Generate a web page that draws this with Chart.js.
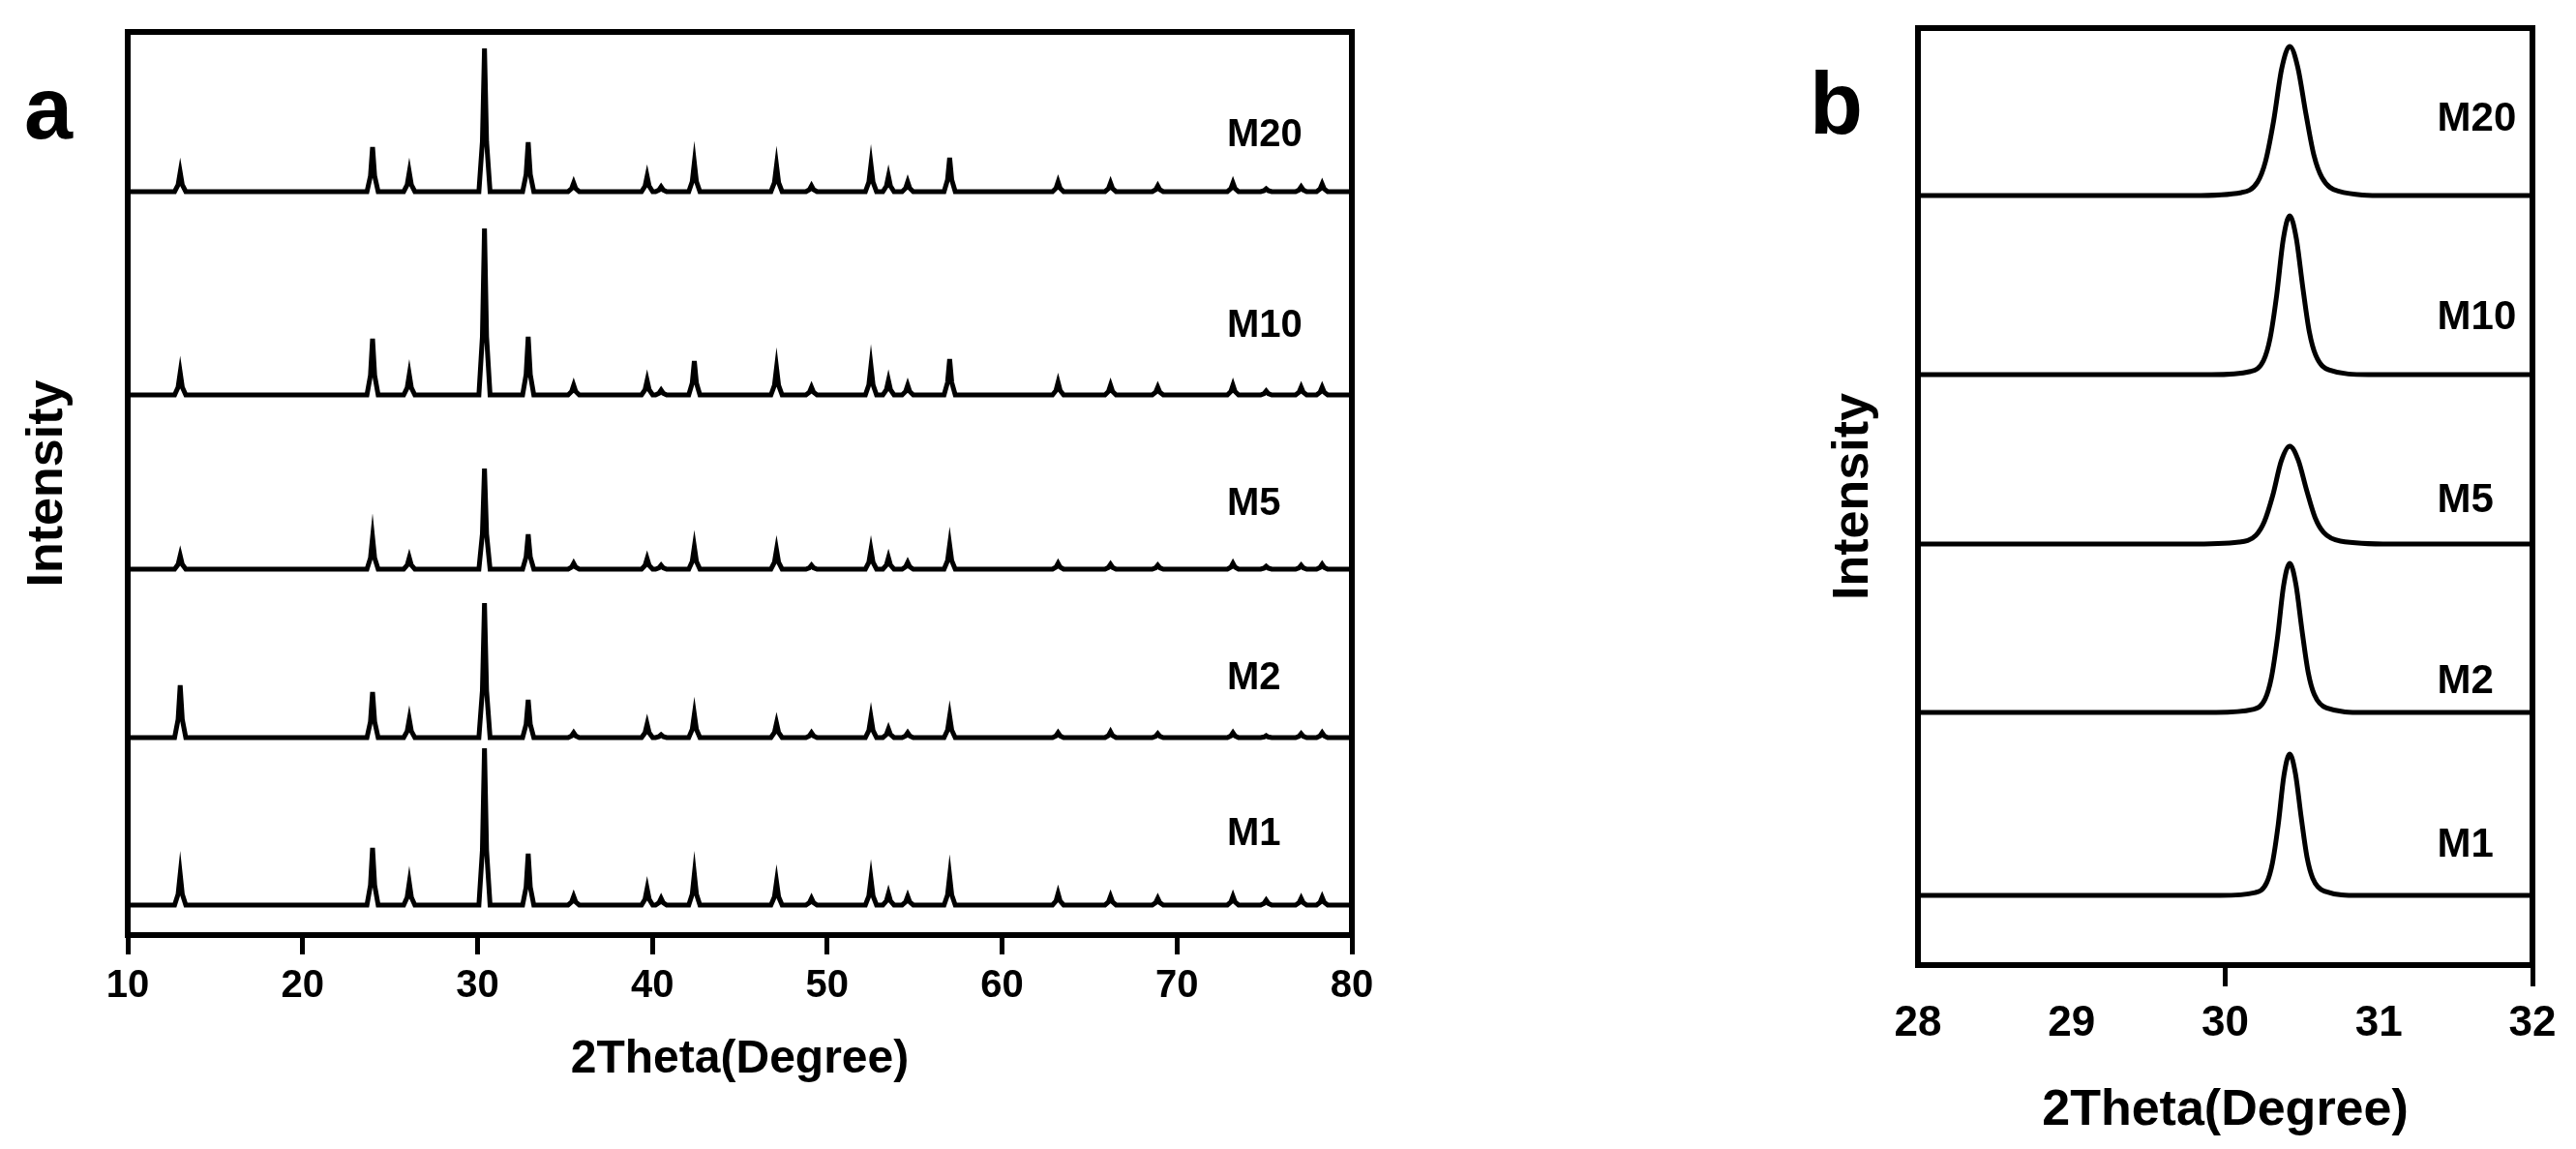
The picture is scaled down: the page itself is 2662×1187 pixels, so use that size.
<!DOCTYPE html>
<html>
<head>
<meta charset="utf-8">
<script src="https://cdn.jsdelivr.net/npm/chart.js@4.4.1/dist/chart.umd.min.js"></script>
<style>
  body { margin: 0; background: #fff; width: 2662px; height: 1187px; overflow: hidden; position: relative; font-family: "Liberation Sans", Arial, sans-serif; }
  .panel { position: absolute; top: 0; height: 1187px; }
  #wrapA { left: 0; width: 1440px; }
  #wrapB { left: 1700px; width: 962px; }
  .tag { position: absolute; font-weight: bold; font-size: 90px; line-height: 90px; color: #000; }
</style>
</head>
<body>
<div class="tag" style="left:25px;top:67px">a</div>
<div class="tag" style="left:1870px;top:62px">b</div>
<div class="panel" id="wrapA"><canvas id="chartA"></canvas></div>
<div class="panel" id="wrapB"><canvas id="chartB"></canvas></div>
<script>
const samples = ["M20", "M10", "M5", "M2", "M1"];

// (a) 全パターン: ピーク位置 (2θ) と各ベースラインからの高さ
const peakPos = [13.0, 24.0, 26.1, 30.4, 32.9, 35.5, 39.7, 40.5, 42.4, 47.1, 49.1, 52.5, 53.5, 54.6, 57.0, 63.2, 66.2, 68.9, 73.2, 75.1, 77.1, 78.3];
const peaksM20 = [20, 46, 20, 148, 51, 9, 16, 5, 30, 27, 6, 28, 16, 10, 35, 10, 9, 6, 9, 3, 5, 8];
const peaksM10 = [23, 58, 21, 172, 60, 10, 15, 5, 35, 28, 8, 30, 15, 10, 37, 13, 10, 8, 10, 4, 8, 8];
const peaksM5 = [14, 33, 12, 104, 36, 6, 11, 4, 23, 20, 4, 20, 12, 7, 25, 6, 5, 4, 6, 3, 4, 5];
const peaksM2 = [54, 47, 19, 139, 39, 5, 14, 3, 24, 15, 5, 21, 9, 5, 22, 5, 6, 4, 5, 2, 4, 5];
const peaksM1 = [32, 59, 23, 162, 53, 9, 17, 7, 32, 24, 7, 27, 12, 9, 30, 12, 9, 7, 9, 5, 7, 8];
const baseA = [768, 558, 378, 204, 31];
const labelYA = [826, 629, 445, 265, 104];
const ticksA = [10, 20, 30, 40, 50, 60, 70, 80];
// ピークの形 (2θ のずれ, 高さの割合)
const spikeDx = [-0.32, -0.12, 0, 0.12, 0.32];
const spikeFrac = [0, 0.35, 1, 0.35, 0];

// (b) 30.4° 付近の拡大
const zoomCenter = 30.42;
const zoomBase = [795, 610, 435, 261, 72];
const zoomHeight = [154, 164, 101, 154, 146];
const zoomFwhm = [0.21, 0.17, 0.22, 0.16, 0.15];
const labelYB = [874, 669, 480, 293, 124];
const ticksB = [28, 29, 30, 31, 32];
const ticksMarkedB = [30, 32];
// 半値幅単位のプロファイル
const profileU = [-3, -1.5, -1, -0.75, -0.5, -0.25, 0, 0.25, 0.5, 0.75, 1, 1.5, 3];
const profileFrac = [0, 0.02, 0.09, 0.23, 0.5, 0.85, 1, 0.86, 0.55, 0.27, 0.12, 0.03, 0];

const FONT = '"Liberation Sans", Arial, sans-serif';
Chart.defaults.font.family = FONT;
Chart.defaults.font.weight = "bold";
Chart.defaults.color = "#000";

function patternA(heights, base) {
  const pts = [{ x: 10, y: base }];
  peakPos.forEach((p, i) => {
    spikeDx.forEach((d, k) => pts.push({ x: p + d, y: base + heights[i] * spikeFrac[k] }));
  });
  pts.push({ x: 80, y: base });
  return pts;
}

function patternB(i) {
  const pts = [{ x: 28, y: zoomBase[i] }];
  profileU.forEach((u, k) => {
    pts.push({ x: zoomCenter + u * zoomFwhm[i], y: zoomBase[i] + zoomHeight[i] * profileFrac[k] });
  });
  pts.push({ x: 32, y: zoomBase[i] });
  return pts;
}

// 枠線とサンプル名
const frame = {
  id: "frame",
  afterDatasetsDraw(chart, args, opts) {
    const { ctx, chartArea: a } = chart;
    ctx.save();
    ctx.lineWidth = 6;
    ctx.strokeStyle = "#000";
    ctx.strokeRect(a.left, a.top, a.right - a.left, a.bottom - a.top);
    ctx.font = "bold " + opts.size + "px " + FONT;
    ctx.fillStyle = "#000";
    ctx.textBaseline = "middle";
    ctx.textAlign = "left";
    samples.forEach((name, i) => {
      ctx.fillText(name, chart.scales.x.getPixelForValue(opts.labelX), chart.scales.y.getPixelForValue(opts.labelY[i]));
    });
    ctx.restore();
  },
};

function lineSet(data, smooth) {
  return {
    data: data,
    borderColor: "#000",
    borderWidth: 5,
    pointRadius: 0,
    fill: false,
    tension: 0,
    cubicInterpolationMode: smooth ? "monotone" : "default",
  };
}

const heightsA = [peaksM20, peaksM10, peaksM5, peaksM2, peaksM1];

new Chart(document.getElementById("chartA"), {
  type: "line",
  data: { datasets: heightsA.map((h, i) => lineSet(patternA(h, baseA[i]), false)) },
  options: {
    responsive: true,
    maintainAspectRatio: false,
    animation: false,
    layout: { padding: { top: 33, right: 43, left: 0, bottom: 0 } },
    plugins: { legend: { display: false }, tooltip: { enabled: false }, frame: { size: 40, labelX: 72.86, labelY: labelYA } },
    scales: {
      x: {
        type: "linear",
        min: 10,
        max: 80,
        afterBuildTicks: (s) => { s.ticks = ticksA.map((v) => ({ value: v })); },
        afterFit: (s) => { s.height = 221; },
        grid: { drawOnChartArea: false, drawTicks: true, tickLength: 20, tickWidth: 5, tickColor: "#000" },
        border: { display: false },
        ticks: { font: { size: 40, weight: "bold" }, padding: 9, maxRotation: 0 },
        title: { display: true, text: "2Theta(Degree)", font: { size: 48, weight: "bold" }, padding: { top: 0, bottom: 63 } },
      },
      y: {
        min: 0,
        max: 933,
        afterFit: (s) => { s.width = 132; },
        grid: { display: false },
        border: { display: false },
        ticks: { display: false },
        title: { display: true, text: "Intensity", font: { size: 52, weight: "bold" }, padding: { top: 18, bottom: 0 } },
      },
    },
  },
  plugins: [frame],
});

new Chart(document.getElementById("chartB"), {
  type: "line",
  data: { datasets: samples.map((s, i) => lineSet(patternB(i), true)) },
  options: {
    responsive: true,
    maintainAspectRatio: false,
    animation: false,
    layout: { padding: { top: 29, right: 45, left: 0, bottom: 0 } },
    plugins: { legend: { display: false }, tooltip: { enabled: false }, frame: { size: 42, labelX: 31.38, labelY: labelYB } },
    scales: {
      x: {
        type: "linear",
        min: 28,
        max: 32,
        afterBuildTicks: (s) => { s.ticks = ticksB.map((v) => ({ value: v })); },
        afterFit: (s) => { s.height = 190; },
        grid: {
          drawOnChartArea: false,
          drawTicks: true,
          tickLength: 22,
          tickWidth: 5,
          tickColor: (c) => (ticksMarkedB.includes(c.tick.value) ? "#000" : "rgba(0,0,0,0)"),
        },
        border: { display: false },
        ticks: { font: { size: 44, weight: "bold" }, padding: 12, maxRotation: 0 },
        title: { display: true, text: "2Theta(Degree)", font: { size: 52, weight: "bold" }, padding: { top: 0, bottom: 8 } },
      },
      y: {
        min: 0,
        max: 968,
        afterFit: (s) => { s.width = 282; },
        grid: { display: false },
        border: { display: false },
        ticks: { display: false },
        title: { display: true, text: "Intensity", font: { size: 52, weight: "bold" }, padding: { top: 184, bottom: 0 } },
      },
    },
  },
  plugins: [frame],
});
</script>
</body>
</html>
